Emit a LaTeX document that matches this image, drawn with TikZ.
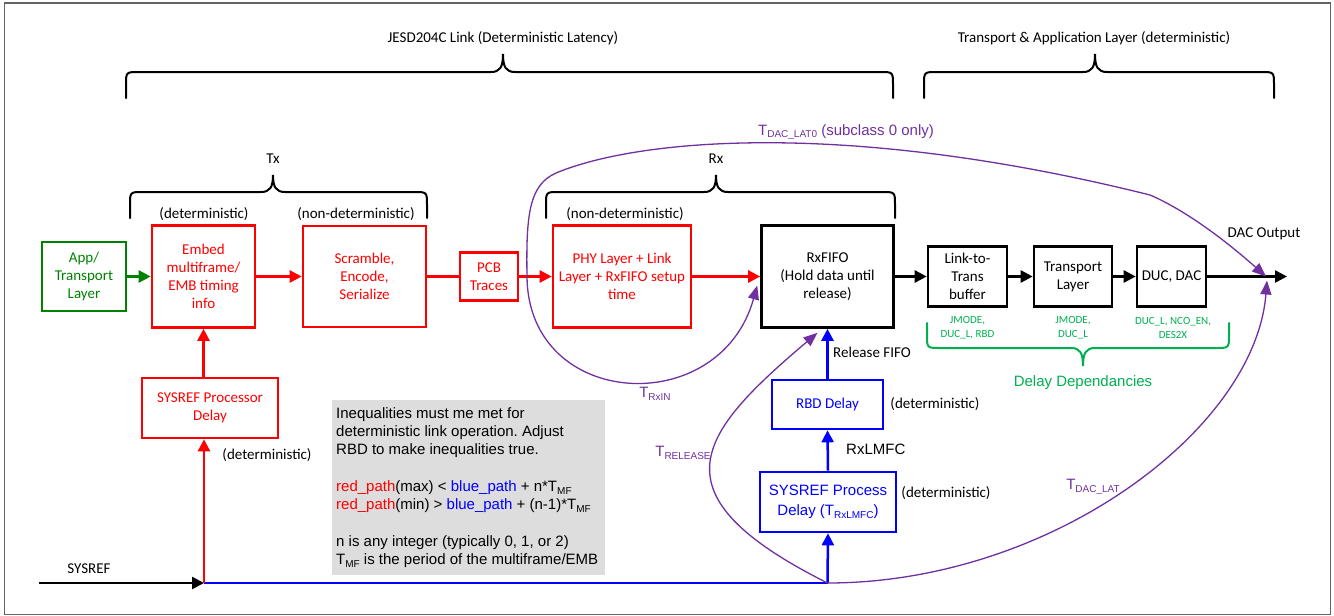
\documentclass[tikz,border=0pt]{standalone}
\usepackage{fontspec}
\setmainfont{Carlito}
\newfontfamily\arialf{Liberation Sans}
\usetikzlibrary{arrows.meta,calc}
\definecolor{pur}{RGB}{112,48,160}
\definecolor{appg}{RGB}{0,130,0}
\definecolor{ddg}{RGB}{0,176,80}
\definecolor{gbox}{RGB}{221,221,221}
\definecolor{bord}{RGB}{100,100,100}
\frenchspacing
\newcommand\subs[1]{\raisebox{-0.35ex}{\fontsize{10}{10}\selectfont #1}}
% x1, x2, xm, yline, yend, ytip, sign, style
\newcommand\mybrace[8]{%
  \draw[brc,#8] (#1,#5) -- (#1,{#4+13*(#7)}) .. controls (#1,#4) .. ({#1+13},#4)
    -- ({#3-12},#4) .. controls ({#3-3},#4) and (#3,{#4-5*(#7)}) .. (#3,#6)
    .. controls (#3,{#4-5*(#7)}) and ({#3+3},#4) .. ({#3+12},#4)
    -- ({#2-13},#4) .. controls (#2,#4) .. (#2,{#4+13*(#7)}) -- (#2,#5);}
\begin{document}
\begin{tikzpicture}[x=1pt,y=-1pt,
  box/.style={draw, line width=2.6pt, align=center, inner sep=0pt, font=\fontsize{15}{18}\selectfont},
  cal/.style={inner sep=0pt, align=center, font=\fontsize{15}{18}\selectfont},
  ari/.style={inner sep=0pt, align=center, font=\arialf\fontsize{15}{18.3}\selectfont},
  small/.style={inner sep=0pt, align=center, text=ddg, font=\fontsize{11}{14}\selectfont},
  ln/.style={line width=2.5pt},
  ar/.style={-{Triangle[length=12pt,width=12pt]}},
  pl/.style={pur, line width=1.3pt},
  par/.style={-{Triangle[length=14pt,width=11pt]}},
  brc/.style={line width=2pt, line cap=round}]
\useasboundingbox (0,0) rectangle (1334,616);
\draw[bord, line width=1.3pt] (4.5,3) rectangle (1330.5,614.5);

% braces
\mybrace{126}{893}{503}{72}{98}{54}{1}{black}
\mybrace{924}{1274}{1095}{72}{98}{54}{1}{black}
\mybrace{130}{427}{273}{192}{218}{175}{1}{black}
\mybrace{546}{895}{716}{192}{218}{175}{1}{black}
\mybrace{927}{1229}{1083}{348}{323}{366}{-1}{ddg}

\node[cal] (ljesd) at (503,38) {JESD204C Link (Deterministic Latency)};
\node[cal] (ltrans) at (1094,38) {Transport \& Application Layer (deterministic)};
\node[cal] (ltx) at (273,159) {Tx};
\node[cal] (lrx) at (716,159) {Rx};
\node[cal] (ldet1) at (204,214) {(deterministic)};
\node[cal] (lnd1) at (356,214) {(non-deterministic)};
\node[cal] (lnd2) at (625,214) {(non-deterministic)};

% boxes
\node[box, appg, minimum width=84pt, minimum height=69pt] (app) at (84,276.5) {App/\\Transport\\Layer};
\node[box, red, minimum width=103pt, minimum height=102pt] (embed) at (203.5,276.5) {Embed\\multiframe/\\EMB timing\\info};
\node[box, red, minimum width=123pt, minimum height=101pt] (scr) at (364.5,276.5) {Scramble,\\Encode,\\Serialize};
\node[box, red, minimum width=58pt, minimum height=48pt] (pcb) at (489,276.5) {PCB\\Traces};
\node[box, red, minimum width=138pt, minimum height=102pt] (phy) at (622,276.5) {PHY Layer + Link\\Layer + RxFIFO setup\\time};
\node[box, minimum width=132pt, minimum height=102pt] (fifo) at (827.5,276.5) {RxFIFO\\(Hold data until\\release)};
\node[box, minimum width=79pt, minimum height=60pt] (l2t) at (967.5,276.5) {Link-to-\\Trans\\buffer};
\node[box, minimum width=78pt, minimum height=60pt] (tl) at (1073,276.5) {Transport\\Layer};
\node[box, minimum width=69pt, minimum height=60pt] (duc) at (1171.5,276.5) {DUC, DAC};
\node[box, red, minimum width=136pt, minimum height=60pt] (sproc) at (210,408) {SYSREF Processor\\Delay};
\node[box, blue, minimum width=111pt, minimum height=49pt] (rbd) at (827.5,404.5) {RBD Delay};
\node[box, blue, minimum width=136pt, minimum height=60pt, font=\arialf\fontsize{15}{20}\selectfont] (sprd) at (828,502) {SYSREF Process\\Delay (T\subs{RxLMFC})};

% coordinates
\coordinate (sysin) at (39,583);
\coordinate (split) at (204,583);
\coordinate (bsplit) at (827.5,583);
\coordinate (out) at (1287,276.5);
\coordinate (dacpt) at (1266,276.5);
\coordinate (rxin) at (527,276.5);

% main path
\draw[ln, appg, ar] (app.east) -- (embed.west);
\draw[ln, red, ar] (embed.east) -- (scr.west);
\draw[ln, red] (scr.east) -- (pcb.west);
\draw[ln, red, ar] (pcb.east) -- (phy.west);
\draw[ln, red, ar] (phy.east) -- (fifo.west);
\draw[ln, ar] (fifo.east) -- (l2t.west);
\draw[ln, ar] (l2t.east) -- (tl.west);
\draw[ln, ar] (tl.east) -- (duc.west);
\draw[ln, ar] (duc.east) -- (out);

% sysref paths
\draw[ln, blue] (split) -- (bsplit);
\draw[ln, ar] (sysin) -- (split);
\draw[ln, red, ar] (split) -- (split |- sproc.south);
\draw[ln, red, ar] (sproc.north -| embed.south) -- (embed.south);
\draw[ln, blue, ar] (bsplit) -- (sprd.south);
\draw[ln, blue, ar] (sprd.north) -- (rbd.south);
\draw[ln, blue, ar] (rbd.north) -- (fifo.south);

% purple timing curves
\draw[pl, par] (rxin) .. controls (528,410) and (720,420) .. ($(fifo.west)+(-3,9)$);
\draw[pl, par] (rxin) .. controls (526,215) and (529,185) .. (556,173)
   .. controls (640,138) and (850,120) .. (1150,195)
   .. controls (1185,210) and (1225,240) .. (dacpt);
\draw[pl, par] (bsplit) .. controls (650,494) and (698,434) .. ($(fifo.south)+(-10,4)$);
\draw[pl, par] (bsplit) .. controls (1050,583) and (1255,430) .. ($(dacpt)+(1,4)$);

% labels
\node[cal] (ldacout) at (1264,234) {DAC Output};
\node[cal, anchor=west] (lrel) at (833,352) {Release FIFO};
\node[ari, anchor=west] (lrxlmfc) at (846,449) {RxLMFC};
\node[cal] (ldet2) at (267,455) {(deterministic)};
\node[cal] (ldet3) at (935,404) {(deterministic)};
\node[cal] (ldet4) at (946,493) {(deterministic)};
\node[cal] (lsysref) at (89,569) {SYSREF};

\node[ari, text=pur] (tlat0) at (846,132) {T\subs{DAC\_LAT0} (subclass 0 only)};
\node[ari, text=pur] (trxin) at (655,394) {T\subs{RxIN}};
\node[ari, text=pur] (trel) at (683,453) {T\subs{RELEASE}};
\node[ari, text=pur] (tlat) at (1093,487) {T\subs{DAC\_LAT}};

\node[small] (dd1) at (967.5,328) {JMODE,\\DUC\_L, RBD};
\node[small] (dd2) at (1073,328) {JMODE,\\DUC\_L};
\node[small] (dd3) at (1173,328) {DUC\_L, NCO\_EN,\\DES2X};
\node[ari, text=ddg] (ldd) at (1083,383) {Delay Dependancies};

% inequality box
\node[fill=gbox, minimum width=273pt, minimum height=175pt, inner sep=0pt, anchor=north west] (ineqbox) at (332,400) {};
\node[anchor=north west, inner sep=0pt, align=left, font=\arialf\fontsize{15}{18.3}\selectfont] (ineqtext) at (336,407)
 {Inequalities must me met for\\
  deterministic link operation. Adjust\\
  RBD to make inequalities true.\\
  ~\\
  {\color{red}red\_path}(max) < {\color{blue}blue\_path} + n*T\subs{MF}\\
  {\color{red}red\_path}(min) > {\color{blue}blue\_path} + (n-1)*T\subs{MF}\\
  ~\\
  n is any integer (typically 0, 1, or 2)\\
  T\subs{MF} is the period of the multiframe/EMB};
\end{tikzpicture}
\end{document}
